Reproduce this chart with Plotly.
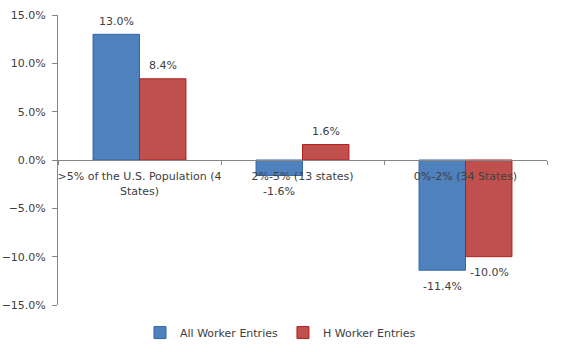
import plotly.graph_objects as go

categories = [">5% of the U.S. Population (4<br>States)", "2%-5% (13 states)", "0%-2% (34 States)"]
all_worker = [0.130, -0.016, -0.114]
h_worker = [0.084, 0.016, -0.100]
series_names = ["All Worker Entries", "H Worker Entries"]

FONT = dict(family="DejaVu Sans, sans-serif", size=11, color="#404040")
AX = "#868686"

fig = go.Figure()
fig.add_trace(go.Bar(x=categories, y=all_worker, name=series_names[0],
                     marker=dict(color="#4F81BD", line=dict(color="#3465A8", width=1))))
fig.add_trace(go.Bar(x=categories, y=h_worker, name=series_names[1],
                     marker=dict(color="#C0504D", line=dict(color="#B0201E", width=1))))

# data labels
for vals, xs in ((all_worker, -23.5), (h_worker, 23.5)):
    for c, v in zip(categories, vals):
        fig.add_annotation(x=c, y=v, text=f"{v*100:.1f}%", showarrow=False,
                           xshift=xs, yshift=13 if v >= 0 else -16,
                           yanchor="middle", font=FONT)

fig.update_layout(
    width=562, height=352,
    margin=dict(l=58, r=15, t=15, b=47, autoexpand=False),
    paper_bgcolor="white", plot_bgcolor="white",
    font=FONT,
    barmode="group", bargap=0.43, bargroupgap=0,
    showlegend=True,
    legend=dict(orientation="h", x=0.455, xanchor="center", y=-0.045, yanchor="top",
                font=FONT, itemwidth=30, traceorder="normal"),
    xaxis=dict(anchor="free", position=0.5, showline=True, linecolor=AX, linewidth=1,
               ticks="outside", tickson="boundaries", ticklen=4, tickcolor=AX,
               showgrid=False, zeroline=False, tickfont=FONT, tickangle=0,
               ticklabelstandoff=6, automargin=False, layer="above traces"),
    yaxis=dict(range=[-0.15, 0.15], tickvals=[-0.15, -0.10, -0.05, 0, 0.05, 0.10, 0.15],
               tickformat=".1%", showline=True, linecolor=AX, linewidth=1,
               ticks="outside", ticklen=5, tickcolor=AX, showgrid=False, zeroline=False,
               tickfont=FONT, ticklabelstandoff=4, automargin=False),
)

fig.write_html("out.html")
